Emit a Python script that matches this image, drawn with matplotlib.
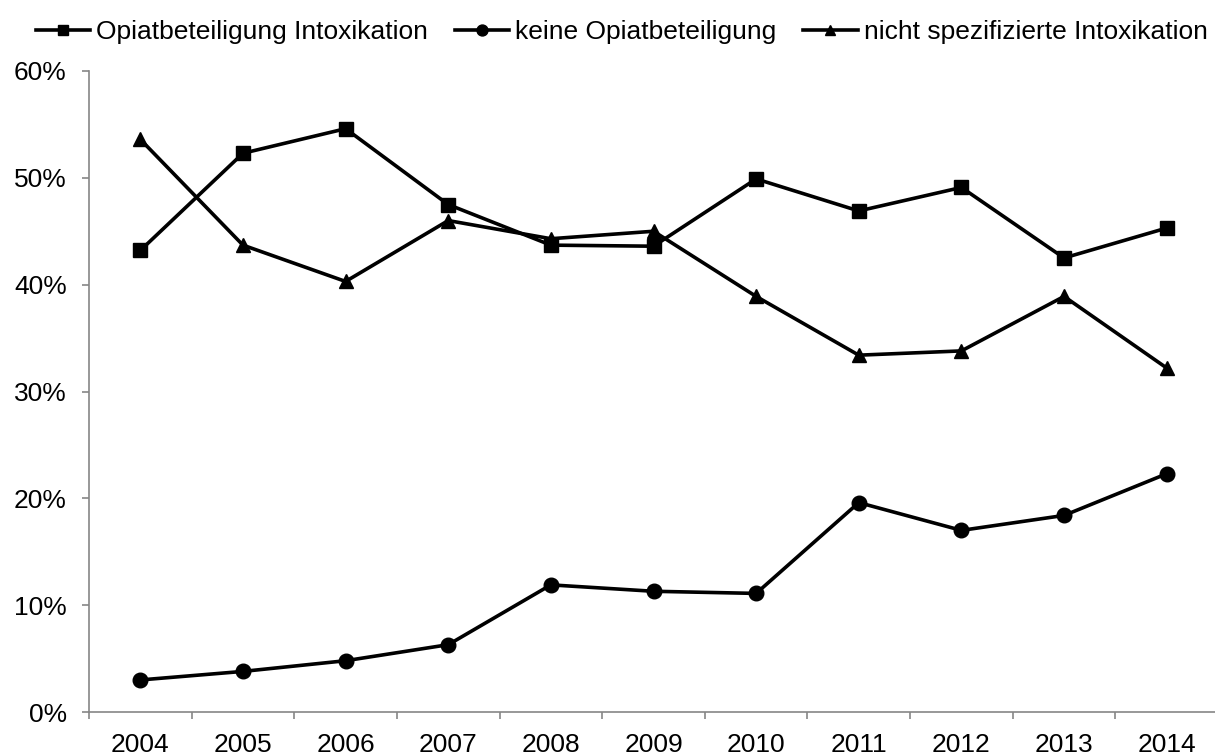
import matplotlib
matplotlib.use("Agg")
import matplotlib.pyplot as plt
from matplotlib.ticker import FixedLocator, PercentFormatter

plt.rcParams['font.family'] = ['Liberation Sans', 'DejaVu Sans']

# data (percent)
years = ["2004", "2005", "2006", "2007", "2008", "2009", "2010", "2011", "2012", "2013", "2014"]
opiat = [43.2, 52.3, 54.6, 47.5, 43.7, 43.6, 49.9, 46.9, 49.1, 42.5, 45.3]
keine = [3.0, 3.8, 4.8, 6.3, 11.9, 11.3, 11.1, 19.6, 17.0, 18.4, 22.3]
nicht_spez = [53.6, 43.7, 40.3, 46.0, 44.3, 45.0, 38.9, 33.4, 33.8, 38.9, 32.2]

labels = ["Opiatbeteiligung Intoxikation", "keine Opiatbeteiligung",
          "nicht spezifizierte Intoxikation"]

fig = plt.figure(figsize=(12.15, 7.56), dpi=100)
ax = fig.add_axes([89 / 1215, 44 / 756, 1129 / 1215, 641 / 756])

x = range(len(years))
style = dict(color="black", linewidth=2.6, markersize=10.5, clip_on=False)
ax.plot(x, opiat, marker="s", label=labels[0], **style)
ax.plot(x, keine, marker="o", label=labels[1], **style)
ax.plot(x, nicht_spez, marker="^", label=labels[2], **style)

ax.set_xlim(-0.5, len(years) - 0.5)
ax.set_ylim(0, 60)
ax.set_yticks(range(0, 61, 10))
ax.yaxis.set_major_formatter(PercentFormatter(decimals=0))
ax.set_xticks(list(x))
ax.set_xticklabels(years)
ax.xaxis.set_minor_locator(FixedLocator([i - 0.5 for i in range(len(years) + 1)]))

grey = "#868686"
for side in ("top", "right"):
    ax.spines[side].set_visible(False)
for side in ("left", "bottom"):
    ax.spines[side].set_color(grey)
    ax.spines[side].set_linewidth(1.2)

ax.tick_params(axis="y", direction="out", length=5, width=1.2, color=grey,
               labelsize=19, pad=11)
ax.tick_params(axis="x", which="major", length=0, labelsize=19, pad=15)
ax.tick_params(axis="x", which="minor", direction="out", length=5, width=1.2,
               color=grey)

fig.legend(loc="upper center", bbox_to_anchor=(0.5115, 1 - 7 / 756), ncol=3,
           frameon=False, fontsize=19, handlelength=2.08, handletextpad=0.22,
           columnspacing=1.0, borderaxespad=0.1, markerscale=0.75)

fig.savefig("out.png", dpi=100)
